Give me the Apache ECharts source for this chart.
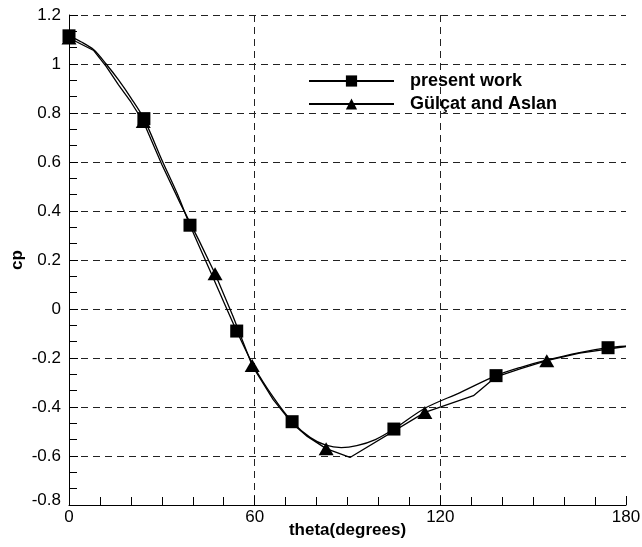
<!DOCTYPE html>
<html>
<head>
<meta charset="utf-8">
<title>cp vs theta</title>
<script src="https://cdn.jsdelivr.net/npm/echarts@6/dist/echarts.min.js"></script>
<style>
  html, body { margin: 0; padding: 0; background: #fff; }
  #chart { width: 642px; height: 547px; }
</style>
</head>
<body>
<div id="chart"></div>
<script>
// present work: curve points, squares drawn at presentMarkerTheta
const presentTheta = [0, 4, 8, 12, 16, 20, 24.2, 30.3, 35, 39.1, 46.5, 54.2, 60, 66, 72.1, 78, 83, 88, 93, 99, 105, 115, 126.4, 138, 146, 154, 165, 174.2, 180];
const presentCp = [1.115, 1.09, 1.058, 1.0, 0.935, 0.862, 0.777, 0.6, 0.47, 0.342, 0.13, -0.09, -0.24, -0.36, -0.46, -0.525, -0.556, -0.566, -0.558, -0.533, -0.49, -0.405, -0.341, -0.272, -0.238, -0.21, -0.178, -0.158, -0.152];
const presentMarkerTheta = [0, 24.2, 39.1, 54.2, 72.1, 105, 138, 174.2];

// Gülçat and Aslan: polyline, triangles drawn at gulcatMarkerTheta
const gulcatTheta = [0, 8, 12, 16, 20, 24, 30, 36, 42, 47.2, 53, 59.2, 66, 72, 77, 83.1, 90.8, 115, 130.7, 138, 146, 154.4, 165, 180];
const gulcatCp = [1.106, 1.055, 0.99, 0.915, 0.845, 0.765, 0.59, 0.43, 0.28, 0.144, -0.03, -0.231, -0.37, -0.465, -0.52, -0.57, -0.606, -0.422, -0.354, -0.277, -0.243, -0.211, -0.18, -0.153];
const gulcatMarkerTheta = [0, 24, 47.2, 59.2, 83.1, 115, 154.4];

const xTicks = [0, 60, 120, 180];

function buildData(theta, cp, marks) {
    return theta.map((t, i) => {
        const item = { value: [t, cp[i]] };
        if (marks.indexOf(t) < 0) item.symbol = 'none';
        return item;
    });
}

const font = "'Liberation Sans', Arial, sans-serif";
const dash = { color: '#222', width: 1, type: [7, 5] };

var myChart = echarts.init(document.getElementById('chart'));
let option = {
    animation: false,
    grid: { left: 69, right: 16, top: 15, bottom: 42, outerBoundsMode: 'none' },
    legend: {
        orient: 'vertical',
        left: 308,
        top: 72,
        padding: 0,
        itemWidth: 85,
        itemHeight: 14,
        itemGap: 5,
        textStyle: { fontFamily: font, fontSize: 18, fontWeight: 'bold', color: '#000', padding: [0, 0, 0, 11] },
        data: ['present work', 'Gülçat and Aslan']
    },
    xAxis: {
        type: 'value',
        min: xTicks[0],
        max: xTicks[xTicks.length - 1],
        interval: 60,
        name: 'theta(degrees)',
        nameLocation: 'middle',
        nameGap: 17,
        nameMoveOverlap: false,
        nameTextStyle: { fontFamily: font, fontSize: 17, fontWeight: 'bold', color: '#000' },
        axisLine: { onZero: false, lineStyle: { color: '#000', width: 1 } },
        axisTick: { inside: true, length: 9, lineStyle: { color: '#000' } },
        minorTick: { show: true, splitNumber: 6, length: 8, lineStyle: { color: '#000' } },
        axisLabel: { fontFamily: font, fontSize: 17, color: '#000', margin: 4 },
        splitLine: { show: true, showMinLine: false, showMaxLine: false, lineStyle: dash }
    },
    yAxis: {
        type: 'value',
        min: -0.8,
        max: 1.2,
        interval: 0.2,
        name: 'cp',
        nameLocation: 'middle',
        nameGap: 43,
        nameMoveOverlap: false,
        nameRotate: 90,
        nameTextStyle: { fontFamily: font, fontSize: 17, fontWeight: 'bold', color: '#000' },
        axisLine: { show: true, onZero: false, lineStyle: { color: '#000', width: 1 } },
        axisTick: { show: true, inside: true, length: 9, lineStyle: { color: '#000' } },
        minorTick: { show: true, splitNumber: 3, length: 8, lineStyle: { color: '#000' } },
        axisLabel: {
            fontFamily: font, fontSize: 17, color: '#000', margin: 8,
            formatter: (v) => {
                const s = String(Math.round(v * 10) / 10);
                return v <= -0.79 ? '{low|' + s + '}' : s;
            },
            rich: { low: { fontFamily: font, fontSize: 17, color: '#000', padding: [0, 0, 10, 0] } }
        },
        splitLine: { show: true, showMinLine: false, lineStyle: dash }
    },
    series: [
        {
            name: 'present work',
            type: 'line',
            smooth: 0.3,
            symbol: 'rect',
            symbolSize: 13,
            showAllSymbol: true,
            itemStyle: { color: '#000' },
            lineStyle: { color: '#000', width: 1.3 },
            data: buildData(presentTheta, presentCp, presentMarkerTheta)
        },
        {
            name: 'Gülçat and Aslan',
            type: 'line',
            smooth: false,
            symbol: 'triangle',
            symbolSize: [15, 13],
            showAllSymbol: true,
            itemStyle: { color: '#000' },
            lineStyle: { color: '#000', width: 1.3 },
            data: buildData(gulcatTheta, gulcatCp, gulcatMarkerTheta)
        }
    ]
};
myChart.setOption(option);
</script>
</body>
</html>
